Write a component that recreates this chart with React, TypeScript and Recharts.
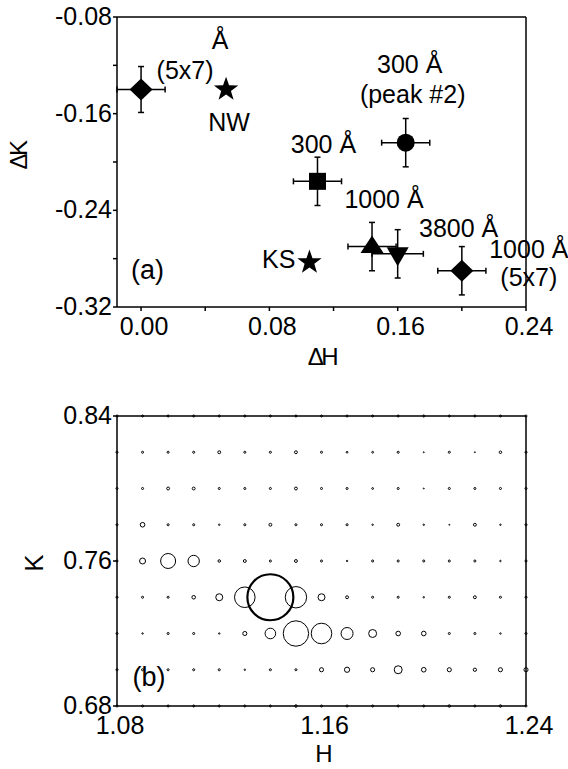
import React from 'react';
import { ScatterChart, Scatter, XAxis, YAxis, ErrorBar, ReferenceLine } from 'recharts';

// ---- panel (a): peak shift of each sample ----
const sampleNotes = [
  ['Å', '(5x7)'],
  ['NW'],
  ['300 Å'],
  ['300 Å', '(peak #2)'],
  ['1000 Å'],
  ['3800 Å'],
  ['1000 Å', '(5x7)'],
  ['KS'],
];
const deltaH = [0.0, 0.053, 0.11, 0.165, 0.144, 0.16, 0.2, 0.105];
const deltaK = [-0.14, -0.14, -0.216, -0.184, -0.27, -0.276, -0.29, -0.283];
const errH = [0.015, null, 0.015, 0.015, 0.015, 0.016, 0.015, null];
const errK = [0.019, null, 0.02, 0.02, 0.02, 0.02, 0.02, null];

const dHTicks = [0, 0.04, 0.08, 0.12, 0.16, 0.2, 0.24];
const dHLabels = [0, 0.08, 0.16, 0.24];
const dKTicks = [-0.32, -0.28, -0.24, -0.2, -0.16, -0.12, -0.08];
const dKLabels = [-0.32, -0.24, -0.16, -0.08];

// ---- panel (b): intensity map, rows top (K=0.84) to bottom (K=0.68) ----
const hGrid = [1.08, 1.09, 1.1, 1.11, 1.12, 1.13, 1.14, 1.15, 1.16, 1.17, 1.18, 1.19, 1.2, 1.21, 1.22, 1.23, 1.24];
const kGrid = [0.84, 0.82, 0.8, 0.78, 0.76, 0.74, 0.72, 0.7, 0.68];
const intensity = [
  [0.2, 0.2, 0.2, 0.2, 0.2, 0.2, 0.2, 0.2, 0.2, 0.2, 0.2, 0.2, 0.2, 0.2, 0.2, 0.2, 0.2],
  [0.2, 0.2, 0.2, 0.2, 0.4, 0.2, 0.2, 0.4, 0.2, 0.15, 0.15, 0.2, 0.05, 0.2, 0.05, 0.3, 0.2],
  [0.2, 0.2, 0.4, 0.4, 0.2, 0.2, 0.2, 0.4, 0.2, 0.2, 0.15, 0.2, 0.05, 0.2, 0.2, 0.2, 0.2],
  [0.2, 1.0, 0.2, 0.2, 0.1, 0.2, 0.4, 0.2, 0.2, 0.2, 0.1, 0.4, 0.1, 0.05, 0.4, 0.1, 0.2],
  [0.2, 1.7, 10.6, 6.1, 0.3, 0.4, 0.2, 0.4, 0.2, 0.1, 0.2, 0.2, 0.2, 0.2, 0.2, 0.1, 0.2],
  [0.2, 0.2, 0.2, 0.6, 2.3, 20, 100, 21.6, 2.3, 0.4, 0.2, 0.2, 0.1, 0.2, 0.4, 0.2, 0.2],
  [0.2, 0.1, 0.2, 0.2, 0.1, 0.8, 5.3, 30.5, 20, 6.8, 3, 1.0, 1.0, 0.2, 0.2, 0.1, 0.2],
  [0.2, 0.2, 0.2, 0.2, 0.2, 0.1, 0.2, 0.2, 0.8, 1.3, 0.8, 3, 1.0, 0.8, 0.5, 0.8, 0.8],
  [0.2, 0.2, 0.2, 0.2, 0.2, 0.2, 0.2, 0.3, 0.2, 0.2, 0.2, 0.2, 0.2, 0.3, 0.2, 0.3, 0.2],
];
const hTicks = [1.08, 1.16, 1.24];
const kTicks = [0.68, 0.76, 0.84];

// marker per sample and where its note sits (px from marker centre)
const MARKERS = ['diamond', 'star', 'square', 'circle', 'triUp', 'triDown', 'diamond', 'star'];
const NOTE_POS: [number, number, string?][][] = [
  [[79, -41], [44, -11]],
  [[3, 41]],
  [[6, -28]],
  [[4, -70], [7, -40]],
  [[12, -39]],
  [[61, -17]],
  [[67, -13], [67, 15]],
  [[-14, 6, 'end']],
];

const FONT = '"Liberation Sans", Arial, sans-serif';
const AXIS = { stroke: '#000', strokeWidth: 1.5 };

const near = (a: number, list: number[]) => list.some((v) => Math.abs(v - a) < 1e-9);

const starPts = (cx: number, cy: number, R: number) => {
  const pts: string[] = [];
  for (let k = 0; k < 10; k++) {
    const a = (-90 + k * 36) * Math.PI / 180;
    const rad = k % 2 ? R * 0.4 : R;
    pts.push(`${cx + rad * Math.cos(a)},${cy + rad * Math.sin(a)}`);
  }
  return pts.join(' ');
};

const drawMarker = (kind: string, cx: number, cy: number) => {
  switch (kind) {
    case 'diamond':
      return <polygon points={`${cx},${cy - 11} ${cx + 11.5},${cy} ${cx},${cy + 11} ${cx - 11.5},${cy}`} fill="#000" />;
    case 'star':
      return <polygon points={starPts(cx, cy, 12.8)} fill="#000" />;
    case 'square':
      return <rect x={cx - 8.5} y={cy - 8.5} width={17} height={17} fill="#000" />;
    case 'circle':
      return <circle cx={cx} cy={cy} r={9} fill="#000" />;
    case 'triUp':
      return <polygon points={`${cx},${cy - 11} ${cx + 11.5},${cy + 6.5} ${cx - 11.5},${cy + 6.5}`} fill="#000" />;
    default:
      return <polygon points={`${cx - 11},${cy - 6.5} ${cx + 11},${cy - 6.5} ${cx},${cy + 12.5}`} fill="#000" />;
  }
};

const xTick = (labels: number[], dy: number) => (p: any) =>
  near(p.payload.value, labels) ? (
    <text x={p.x + 3} y={p.y + dy} textAnchor="middle" fontSize={25} fill="#000" fontFamily={FONT}>
      {p.payload.value.toFixed(2)}
    </text>
  ) : <g />;

const yTick = (labels: number[]) => (p: any) =>
  near(p.payload.value, labels) ? (
    <text x={p.x - 1} y={p.y + 8} textAnchor="end" fontSize={25} fill="#000" fontFamily={FONT}>
      {p.payload.value.toFixed(2)}
    </text>
  ) : <g />;

const PeakShiftChart = () => (
  <ScatterChart width={568} height={384} margin={{ top: 17, right: 42, bottom: 17, left: 0 }}>
    <XAxis
      type="number"
      dataKey="dH"
      domain={[() => 0, () => 0.24]}
      ticks={dHTicks}
      interval={0}
      tickSize={4}
      tickMargin={0}
      height={60}
      axisLine={AXIS}
      tickLine={AXIS}
      tick={xTick(dHLabels, 24)}
      label={(p: any) => {
        const vb = p.viewBox;
        return (
          <g fontFamily={FONT} fill="#000">
            <text x={vb.x + 205} y={vb.y + 57.5} textAnchor="middle" fontSize={24} letterSpacing={-2.5}>ΔH</text>
            <text x={vb.x + 30.5} y={vb.y - 28} textAnchor="middle" fontSize={27}>(a)</text>
          </g>
        );
      }}
    />
    <YAxis
      type="number"
      dataKey="dK"
      domain={[() => -0.32, () => -0.08]}
      ticks={dKTicks}
      interval={0}
      tickSize={4}
      tickMargin={0}
      width={117}
      axisLine={AXIS}
      tickLine={AXIS}
      tick={yTick(dKLabels)}
      label={(p: any) => {
        const vb = p.viewBox;
        const x = vb.x + 18;
        const y = vb.y + 139;
        return (
          <text x={x} y={y} dy="0.36em" textAnchor="middle" fontSize={24} fill="#000" fontFamily={FONT}
            letterSpacing={-2.5} transform={`rotate(-90, ${x}, ${y})`}>ΔK</text>
        );
      }}
    />
    <ReferenceLine y={-0.08} stroke="#000" strokeWidth={1.5} ifOverflow="visible" />
    <ReferenceLine x={0.24} stroke="#000" strokeWidth={1.5} ifOverflow="visible" />
    {deltaH.map((h, i) => (
      <Scatter
        key={i}
        data={[{ dH: h, dK: deltaK[i], eH: errH[i], eK: errK[i] }]}
        isAnimationActive={false}
        shape={(p: any) => (
          <g>
            {drawMarker(MARKERS[i], p.cx, p.cy)}
            {NOTE_POS[i].map((pos, j) => (
              <text key={j} x={p.cx + pos[0]} y={p.cy + pos[1]} textAnchor={pos[2] || 'middle'}
                fontSize={25} fill="#000" fontFamily={FONT}>
                {sampleNotes[i][j]}
              </text>
            ))}
          </g>
        )}
      >
        {errH[i] != null && <ErrorBar dataKey="eH" direction="x" width={3} stroke="#000" strokeWidth={1.5} isAnimationActive={false} />}
        {errK[i] != null && <ErrorBar dataKey="eK" direction="y" width={3} stroke="#000" strokeWidth={1.5} isAnimationActive={false} />}
      </Scatter>
    ))}
  </ScatterChart>
);

const mapData = kGrid.flatMap((k, r) => hGrid.map((h, c) => ({ h, k, I: intensity[r][c] })));

const IntensityMap = () => (
  <ScatterChart width={568} height={384} margin={{ top: 17, right: 42, bottom: 17, left: 0 }}>
    <XAxis
      type="number"
      dataKey="h"
      domain={[1.08, 1.24]}
      ticks={hTicks}
      interval={0}
      tickSize={0}
      tickMargin={0}
      height={60}
      axisLine={AXIS}
      tickLine={false}
      tick={xTick(hTicks, 27.5)}
      label={(p: any) => {
        const vb = p.viewBox;
        return (
          <g fontFamily={FONT} fill="#000">
            <text x={vb.x + 207} y={vb.y + 56} textAnchor="middle" fontSize={24}>H</text>
            <text x={vb.x + 32} y={vb.y - 20} textAnchor="middle" fontSize={27}>(b)</text>
          </g>
        );
      }}
    />
    <YAxis
      type="number"
      dataKey="k"
      domain={[0.68, 0.84]}
      ticks={kTicks}
      interval={0}
      tickSize={4}
      tickMargin={0}
      width={117}
      axisLine={AXIS}
      tickLine={AXIS}
      tick={yTick(kTicks)}
      label={(p: any) => {
        const vb = p.viewBox;
        const x = vb.x + 34;
        const y = vb.y + 147;
        return (
          <text x={x} y={y} dy="0.36em" textAnchor="middle" fontSize={26} fill="#000" fontFamily={FONT}
            transform={`rotate(-90, ${x}, ${y})`}>K</text>
        );
      }}
    />
    <ReferenceLine y={0.84} stroke="#000" strokeWidth={1.5} ifOverflow="visible" />
    <ReferenceLine x={1.24} stroke="#000" strokeWidth={1.5} ifOverflow="visible" />
    <Scatter
      data={mapData}
      isAnimationActive={false}
      shape={(p: any) => {
        const r = 2.3 * Math.sqrt(p.payload.I);
        return <circle cx={p.cx} cy={p.cy} r={r} fill="none" stroke="#000" strokeWidth={r > 20 ? 2.2 : 1} />;
      }}
    />
  </ScatterChart>
);

export default function App() {
  return (
    <div style={{ position: 'absolute', left: 0, top: 0, width: 568, height: 769, background: '#fff', fontFamily: FONT }}>
      <div style={{ position: 'absolute', left: 0, top: 0 }}>
        <PeakShiftChart />
      </div>
      <div style={{ position: 'absolute', left: 0, top: 399 }}>
        <IntensityMap />
      </div>
    </div>
  );
}
